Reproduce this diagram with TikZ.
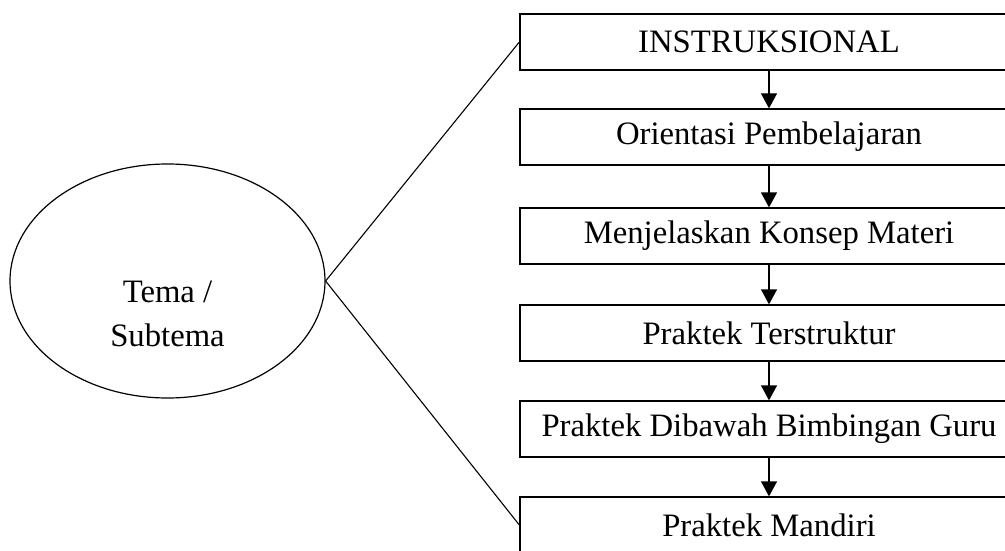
\documentclass[tikz,border=0pt]{standalone}
\usepackage{fontspec}
\setmainfont{Liberation Serif}
\usetikzlibrary{shapes.geometric,arrows.meta}
\begin{document}
\begin{tikzpicture}[x=1pt,y=-1pt,
  stepbox/.style={draw, line width=1.3pt, minimum width=498pt, minimum height=56pt, inner sep=0pt, font=\fontsize{32.7}{39}\selectfont},
  flow/.style={line width=1.3pt, -{Triangle[width=16pt,length=15pt]}},
  link/.style={line width=1.1pt},
  txt/.style={font=\fontsize{32.7}{44}\selectfont, align=center}]
\useasboundingbox (0,0) rectangle (1005,551);
\node[draw, ellipse, line width=1.2pt, minimum width=315pt, minimum height=234pt, inner sep=0pt] (tema) at (167.5,281) {};
\node[txt] (temalbl) at (167.5,314) {Tema /\\Subtema};
\node[stepbox] (b1) at (769,42) {INSTRUKSIONAL};
\node[stepbox] (b2) at (769,137) {Orientasi Pembelajaran};
\node[stepbox] (b3) at (769,236) {Menjelaskan Konsep Materi};
\node[stepbox] (b4) at (769,333) {Praktek Terstruktur};
\node[stepbox] (b5) at (769,429) {Praktek Dibawah Bimbingan Guru};
\node[stepbox] (b6) at (769,525) {Praktek Mandiri};
\draw[flow] (b1) -- (b2);
\draw[flow] (b2) -- (b3);
\draw[flow] (b3) -- (b4);
\draw[flow] (b4) -- (b5);
\draw[flow] (b5) -- (b6);
\draw[link] (tema.east) -- (b1.west);
\draw[link] (tema.east) -- (b6.west);
\end{tikzpicture}
\end{document}
